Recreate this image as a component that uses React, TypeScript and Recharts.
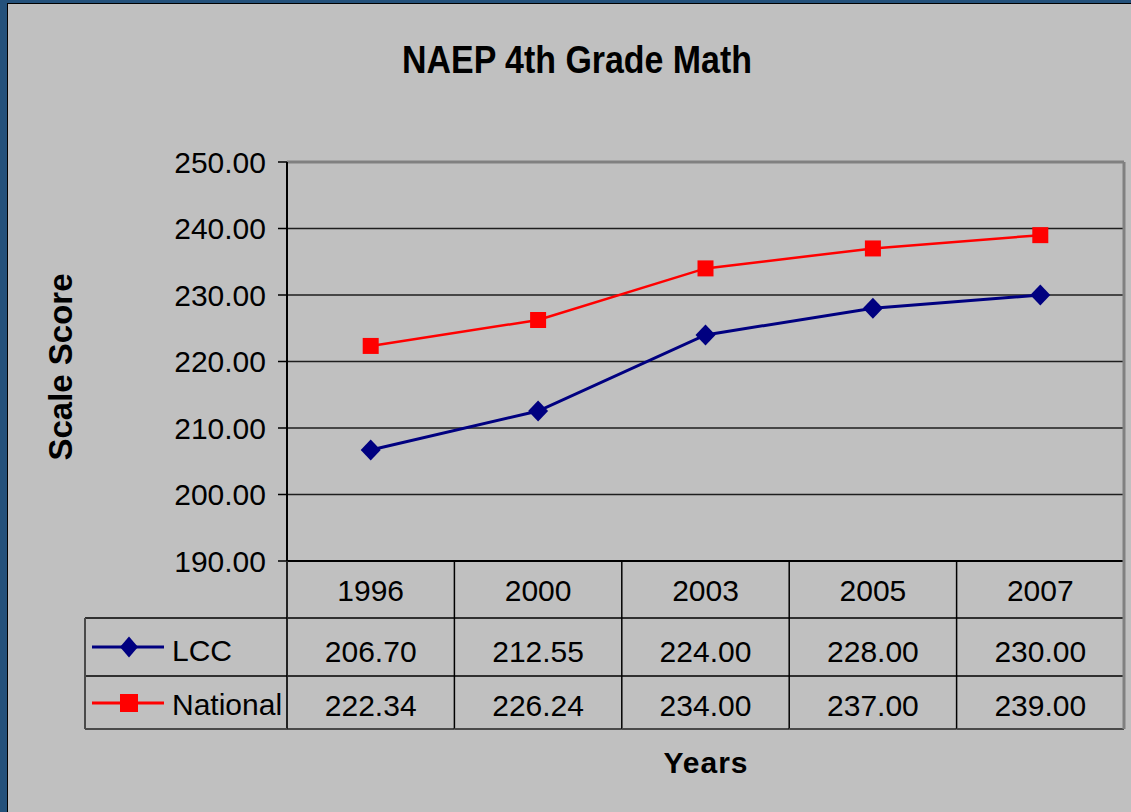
import React from "react";
import { LineChart, Line, XAxis, YAxis, CartesianGrid, Legend, ReferenceLine } from "recharts";

const years = ["1996", "2000", "2003", "2005", "2007"];
const lcc = [206.7, 212.55, 224.0, 228.0, 230.0];
const national = [222.34, 226.24, 234.0, 237.0, 239.0];
const yTicks = [190, 200, 210, 220, 230, 240, 250];

const data = years.map((year, i) => ({ year, lcc: lcc[i], national: national[i] }));

const W = 1131;
const H = 812;
const PLOT_L = 287;
const PLOT_R = 1124;
const PLOT_T = 162;
const PLOT_B = 561;
const COL_W = (PLOT_R - PLOT_L) / years.length;
const ROW1 = 618;
const ROW2 = 676;
const TABLE_B = 729;
const LEGEND_L = 85;
const X_AXIS_H = 168;
const Y_AXIS_W = 120;

const FONT = '"Liberation Sans", Arial, sans-serif';
const NAVY = "#000080";
const RED = "#ff0000";
const BORDER = "#4a4a4a";

// one column of the data table under each category tick
function TableColumn(props: any) {
  const { x, payload, index } = props;
  const i = index;
  const l = x - COL_W / 2;
  const r = x + COL_W / 2;
  const last = i === years.length - 1;
  const txt = { textAnchor: "middle" as const, fontSize: 30, fontFamily: FONT, fill: "#000" };
  return (
    <g>
      <text x={x} y={601} {...txt}>{payload.value}</text>
      <text x={x} y={662} {...txt}>{lcc[i].toFixed(2)}</text>
      <text x={x} y={716} {...txt}>{national[i].toFixed(2)}</text>
      <line x1={l} x2={r} y1={ROW1} y2={ROW1} stroke="#000" strokeWidth={1.5} />
      <line x1={l} x2={r} y1={ROW2} y2={ROW2} stroke="#000" strokeWidth={1.5} />
      <line x1={l} x2={r} y1={TABLE_B} y2={TABLE_B} stroke={BORDER} strokeWidth={2} />
      {!last && <line x1={r} x2={r} y1={PLOT_B} y2={TABLE_B} stroke="#000" strokeWidth={1.5} />}
      {last && <line x1={r} x2={r} y1={PLOT_T} y2={TABLE_B} stroke="#808080" strokeWidth={3} />}
      {i === 0 && (
        <g>
          <line x1={l} x2={l} y1={PLOT_B} y2={TABLE_B} stroke="#222" strokeWidth={2} />
          <line x1={LEGEND_L} x2={l} y1={ROW1} y2={ROW1} stroke="#000" strokeWidth={1.5} />
          <line x1={LEGEND_L} x2={l} y1={ROW2} y2={ROW2} stroke="#000" strokeWidth={1.5} />
          <line x1={LEGEND_L} x2={l} y1={TABLE_B} y2={TABLE_B} stroke={BORDER} strokeWidth={2} />
          <line x1={LEGEND_L} x2={LEGEND_L} y1={ROW1} y2={TABLE_B} stroke={BORDER} strokeWidth={2} />
        </g>
      )}
    </g>
  );
}

const Diamond = (p: any) => {
  const { cx, cy, index } = p;
  if (cx == null || cy == null) return null;
  return (
    <path
      key={`lcc-${index}`}
      d={`M${cx},${cy - 10.5} L${cx + 10},${cy} L${cx},${cy + 10.5} L${cx - 10},${cy} Z`}
      fill={NAVY}
    />
  );
};

const Square = (p: any) => {
  const { cx, cy, index } = p;
  if (cx == null || cy == null) return null;
  return <rect key={`nat-${index}`} x={cx - 8} y={cy - 8} width={16} height={16} fill={RED} />;
};

function LegendIcon({ type, color }: { type: string; color: string }) {
  return (
    <svg width={80} height={24} style={{ display: "block" }}>
      <line x1={5} x2={77} y1={12} y2={12} stroke={color} strokeWidth={3} />
      {type === "diamond" ? (
        <path d="M42,1.5 L51,12 L42,22.5 L33,12 Z" fill={color} />
      ) : (
        <rect x={33} y={3} width={18} height={18} fill={color} />
      )}
    </svg>
  );
}

function TableLegend(props: any) {
  const items = props.payload || [];
  const rowTops = [0, ROW2 - ROW1];
  const rowH = [ROW2 - ROW1, TABLE_B - ROW1 - (ROW2 - ROW1)];
  return (
    <div style={{ position: "relative", width: PLOT_L - LEGEND_L, height: TABLE_B - ROW1 }}>
      {items.map((it: any, k: number) => (
        <div
          key={it.value}
          style={{
            position: "absolute",
            left: 0,
            top: rowTops[k],
            height: rowH[k],
            display: "flex",
            alignItems: "center",
            fontFamily: FONT,
            fontSize: 30,
            color: "#000",
          }}
        >
          <LegendIcon type={it.type} color={it.color} />
          <span style={{ marginLeft: 5, marginTop: k === 0 ? 8 : 5 }}>{it.value}</span>
        </div>
      ))}
    </div>
  );
}

const YTitle = () => (
  <text
    transform="translate(72,367) rotate(-90)"
    textAnchor="middle"
    fontSize={33}
    fontWeight="bold"
    fontFamily={FONT}
    fill="#000"
  >
    Scale Score
  </text>
);

const XTitle = () => (
  <text x={706} y={773} textAnchor="middle" fontSize={30} fontWeight="bold" fontFamily={FONT} fill="#000" letterSpacing={1}>
    Years
  </text>
);

export default function App() {
  return (
    <div style={{ position: "absolute", left: 0, top: 0, width: W, height: H, background: "#24517b", overflow: "hidden" }}>
      <div
        style={{
          position: "absolute",
          left: 7,
          top: 3,
          width: W - 7,
          height: H - 3,
          background: "#c0c0c0",
          borderLeft: "1px solid #000",
          borderTop: "1px solid #000",
          boxSizing: "border-box",
        }}
      />
      <svg width={W} height={100} style={{ position: "absolute", left: 0, top: 0 }}>
        <text x={577} y={73} textAnchor="middle" fontSize={38} fontWeight="bold" fontFamily={FONT} fill="#000" textLength={350} lengthAdjust="spacingAndGlyphs">
          NAEP 4th Grade Math
        </text>
      </svg>
      <div style={{ position: "absolute", left: 0, top: 0 }}>
        <LineChart
          width={W}
          height={H}
          data={data}
          margin={{ top: PLOT_T, right: W - PLOT_R, bottom: H - PLOT_B - X_AXIS_H, left: PLOT_L - Y_AXIS_W }}
        >
          <CartesianGrid vertical={false} stroke="#1e1e1e" strokeWidth={1.5} />
          <ReferenceLine y={250} stroke="#808080" strokeWidth={3} />
          <XAxis
            dataKey="year"
            height={X_AXIS_H}
            padding={{ left: COL_W / 2, right: COL_W / 2 }}
            axisLine={{ stroke: "#000", strokeWidth: 2 }}
            tickLine={false}
            tickSize={0}
            tickMargin={0}
            interval={0}
            tick={TableColumn}
            label={<XTitle />}
          />
          <YAxis
            width={Y_AXIS_W}
            domain={[190, 250]}
            ticks={yTicks}
            tickFormatter={(v: number) => v.toFixed(2)}
            axisLine={{ stroke: "#000", strokeWidth: 2 }}
            tickLine={{ stroke: "#000", strokeWidth: 1.5 }}
            tickSize={9}
            tickMargin={12}
            tick={{ fontSize: 30, fill: "#000", fontFamily: FONT }}
            label={<YTitle />}
          />
          <Legend
            layout="horizontal"
            verticalAlign="middle"
            align="center"
            content={(p: any) => <TableLegend payload={p.payload} />}
            wrapperStyle={{ position: "absolute", left: LEGEND_L + 2, top: ROW1, width: PLOT_L - LEGEND_L, height: TABLE_B - ROW1 }}
          />
          <Line
            dataKey="lcc"
            name="LCC"
            stroke={NAVY}
            strokeWidth={3}
            legendType="diamond"
            dot={Diamond}
            activeDot={false}
            isAnimationActive={false}
          />
          <Line
            dataKey="national"
            name="National"
            stroke={RED}
            strokeWidth={2.5}
            legendType="square"
            dot={Square}
            activeDot={false}
            isAnimationActive={false}
          />
        </LineChart>
      </div>
    </div>
  );
}
